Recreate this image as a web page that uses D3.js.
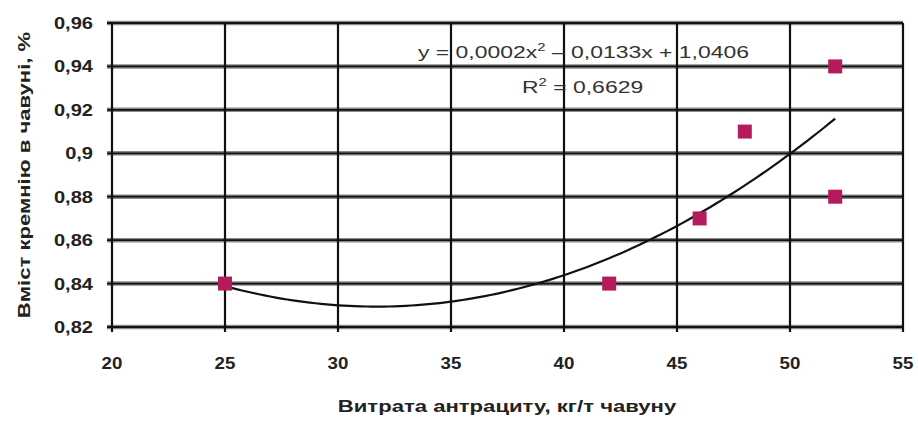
<!DOCTYPE html>
<html>
<head>
<meta charset="utf-8">
<script src="https://cdn.jsdelivr.net/npm/d3@7"></script>
<style>
  html, body { margin: 0; padding: 0; background: #fff; }
  svg { display: block; font-family: "Liberation Sans", Arial, sans-serif; }
</style>
</head>
<body>
<svg id="chart" width="918" height="421"></svg>
<script>
// Anthracite consumption (kg/t of pig iron) vs silicon content (%)
const anthraciteUse = [25, 42, 46, 48, 52, 52];
const siliconContent = [0.84, 0.84, 0.87, 0.91, 0.94, 0.88];
const xTicks = [20, 25, 30, 35, 40, 45, 50, 55];
const yTicks = [0.82, 0.84, 0.86, 0.88, 0.90, 0.92, 0.94, 0.96];
const equationLabel = ["y = 0,0002x", "2", " – 0,0133x + 1,0406"];
const rSquaredLabel = ["R", "2", " = 0,6629"];
const xTitle = "Витрата антрациту, кг/т чавуну";
const yTitle = "Вміст кремнію в чавуні, %";

const svg = d3.select("#chart");
const plot = { left: 112, right: 903, top: 23, bottom: 327 };

const x = d3.scaleLinear().domain([20, 55]).range([plot.left, plot.right]);
const y = d3.scaleLinear().domain([0.82, 0.96]).range([plot.bottom, plot.top]);

const fmt = v => {
  const s = (Math.round(v * 100) / 100).toString();
  return s.replace(".", ",");
};

// widen a text element horizontally (in its own frame) around its anchor
function widen(g, factor) {
  g.attr("transform", function () {
    const t = d3.select(this).attr("data-pos").split(",");
    const rot = d3.select(this).attr("data-rot") || 0;
    return `translate(${t[0]},${t[1]}) rotate(${rot}) scale(${factor},1)`;
  });
}

// horizontal grid: grey band with a dark core
const hg = svg.append("g");
hg.selectAll("line.band").data(yTicks).join("line").attr("class", "band")
  .attr("x1", plot.left - 5).attr("x2", plot.right)
  .attr("y1", d => y(d)).attr("y2", d => y(d))
  .attr("stroke", "#8a8a8a").attr("stroke-width", 4.5);
hg.selectAll("line.core").data(yTicks).join("line").attr("class", "core")
  .attr("x1", plot.left - 5).attr("x2", plot.right)
  .attr("y1", d => y(d)).attr("y2", d => y(d))
  .attr("stroke", "#111").attr("stroke-width", 1.8);

// vertical grid
svg.append("g").selectAll("line").data(xTicks).join("line")
  .attr("x1", d => x(d)).attr("x2", d => x(d))
  .attr("y1", plot.top).attr("y2", plot.bottom + 5)
  .attr("stroke", "#111").attr("stroke-width", 2.2);

// tick labels
svg.append("g").selectAll("text").data(xTicks).join("text")
  .attr("data-pos", d => `${x(d)},369`)
  .attr("text-anchor", "middle")
  .attr("font-size", 17).attr("font-weight", "bold").attr("fill", "#222")
  .text(d => d)
  .call(widen, 1.1);

svg.append("g").selectAll("text").data(yTicks).join("text")
  .attr("data-pos", d => `93,${y(d) + 6}`)
  .attr("text-anchor", "end")
  .attr("font-size", 17).attr("font-weight", "bold").attr("fill", "#222")
  .text(d => fmt(d))
  .call(widen, 1.18);

// axis titles
svg.append("text")
  .attr("data-pos", "507,412")
  .attr("text-anchor", "middle")
  .attr("font-size", 17).attr("font-weight", "bold").attr("fill", "#222")
  .text(xTitle)
  .call(widen, 1.3);

svg.append("text")
  .attr("data-pos", "30,175").attr("data-rot", -90)
  .attr("text-anchor", "middle")
  .attr("font-size", 17).attr("font-weight", "bold").attr("fill", "#222")
  .text(yTitle)
  .call(widen, 1.3);

// second-order polynomial trend fitted by least squares
function quadFit(xs, ys) {
  const s = [0, 0, 0, 0, 0], t = [0, 0, 0];
  xs.forEach((xv, i) => {
    for (let k = 0; k < 5; k++) s[k] += Math.pow(xv, k);
    for (let k = 0; k < 3; k++) t[k] += ys[i] * Math.pow(xv, k);
  });
  const A = [[s[0], s[1], s[2], t[0]], [s[1], s[2], s[3], t[1]], [s[2], s[3], s[4], t[2]]];
  for (let i = 0; i < 3; i++) {
    for (let j = i + 1; j < 3; j++) {
      const f = A[j][i] / A[i][i];
      for (let k = i; k < 4; k++) A[j][k] -= f * A[i][k];
    }
  }
  const c = [0, 0, 0];
  for (let i = 2; i >= 0; i--) {
    let v = A[i][3];
    for (let k = i + 1; k < 3; k++) v -= A[i][k] * c[k];
    c[i] = v / A[i][i];
  }
  return c; // c0 + c1 x + c2 x^2
}
const coef = quadFit(anthraciteUse, siliconContent);
const trendX = d3.range(d3.min(anthraciteUse), d3.max(anthraciteUse) + 0.001, 0.25);
const trend = trendX.map(v => [v, coef[0] + coef[1] * v + coef[2] * v * v]);

svg.append("path")
  .datum(trend)
  .attr("fill", "none").attr("stroke", "#111").attr("stroke-width", 2.2)
  .attr("d", d3.line().x(d => x(d[0])).y(d => y(d[1])));

// observations
svg.append("g").selectAll("rect").data(anthraciteUse.map((v, i) => [v, siliconContent[i]])).join("rect")
  .attr("x", d => x(d[0]) - 7).attr("y", d => y(d[1]) - 7)
  .attr("width", 14).attr("height", 14)
  .attr("fill", "#b51a5c");

// equation and R² annotation
const eq = svg.append("text").attr("data-pos", "418,58")
  .attr("font-size", 17).attr("fill", "#333");
eq.append("tspan").text(equationLabel[0]);
eq.append("tspan").attr("dy", -7).attr("font-size", 11).text(equationLabel[1]);
eq.append("tspan").attr("dy", 7).text(equationLabel[2]);
eq.call(widen, 1.35);

const r2 = svg.append("text").attr("data-pos", "522,93")
  .attr("font-size", 17).attr("fill", "#333");
r2.append("tspan").text(rSquaredLabel[0]);
r2.append("tspan").attr("dy", -7).attr("font-size", 11).text(rSquaredLabel[1]);
r2.append("tspan").attr("dy", 7).text(rSquaredLabel[2]);
r2.call(widen, 1.35);
</script>
</body>
</html>
